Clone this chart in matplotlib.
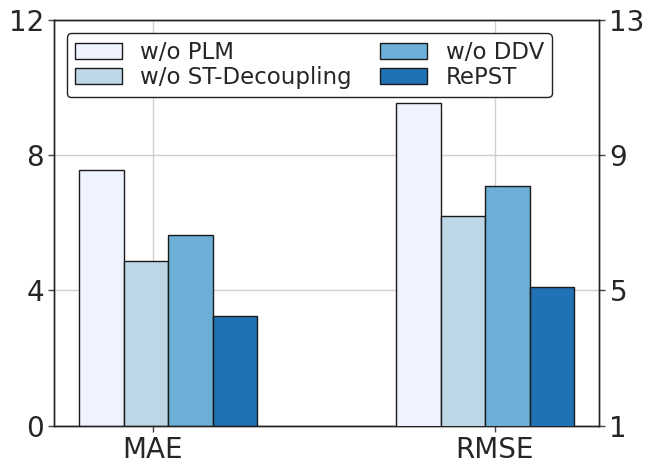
import matplotlib
matplotlib.use("Agg")
import matplotlib.pyplot as plt
import numpy as np

metrics = ["MAE", "RMSE"]
variants = ["w/o PLM", "w/o ST-Decoupling", "w/o DDV", "RePST"]
mae_values = [7.57, 4.88, 5.64, 3.25]
rmse_values = [10.55, 7.21, 8.09, 5.10]
colors = ["#eff3ff", "#bdd7e7", "#6baed6", "#2171b5"]
left_ticks = [0, 4, 8, 12]
right_ticks = [1, 5, 9, 13]

plt.rcParams['font.family'] = ['DejaVu Sans']
text_c = "#262626"

fig = plt.figure(figsize=(6.54, 4.72), dpi=100)
ax = fig.add_axes([0.083, 0.0985, 0.833, 0.859])
ax2 = ax.twinx()

width = 0.13
x = np.arange(len(metrics))
mae_start = -0.15
rmse_start = -0.223

handles = []
for i, (v, c) in enumerate(zip(mae_values, colors)):
    b = ax.bar(x[0] + mae_start + i * width, v, width, color=c,
               edgecolor="#1a1a1a", linewidth=1.0, zorder=3, label=variants[i])
    handles.append(b)
for i, (v, c) in enumerate(zip(rmse_values, colors)):
    ax2.bar(x[1] + rmse_start + i * width, v, width, color=c,
            edgecolor="#1a1a1a", linewidth=1.0, zorder=3)

ax.set_ylim(0, 12)
ax2.set_ylim(1, 13)
ax.set_yticks(left_ticks)
ax2.set_yticks(right_ticks)
ax.set_xticks(x)
ax.set_xticklabels(metrics)

ax.grid(True, color="#d0d0d0", linewidth=1.0, zorder=0)
ax.set_axisbelow(True)
ax2.grid(False)

for a in (ax, ax2):
    a.tick_params(labelsize=20, colors=text_c, length=4, width=1, color="#444444")
    for s in a.spines.values():
        s.set_color("#222222")
        s.set_linewidth(1.0)

leg = ax2.legend(handles=handles, labels=variants, loc="upper left", ncol=2,
                 fontsize=16.5, frameon=True, edgecolor="#222222", fancybox=True,
                 framealpha=1, columnspacing=1.25, handlelength=2.05,
                 handletextpad=0.8, labelspacing=0.1, borderpad=0.35,
                 bbox_to_anchor=(0.002, 0.996), labelcolor=text_c)
leg.set_zorder(10)
ax2.patch.set_visible(False)

fig.savefig("out.png", dpi=100)
